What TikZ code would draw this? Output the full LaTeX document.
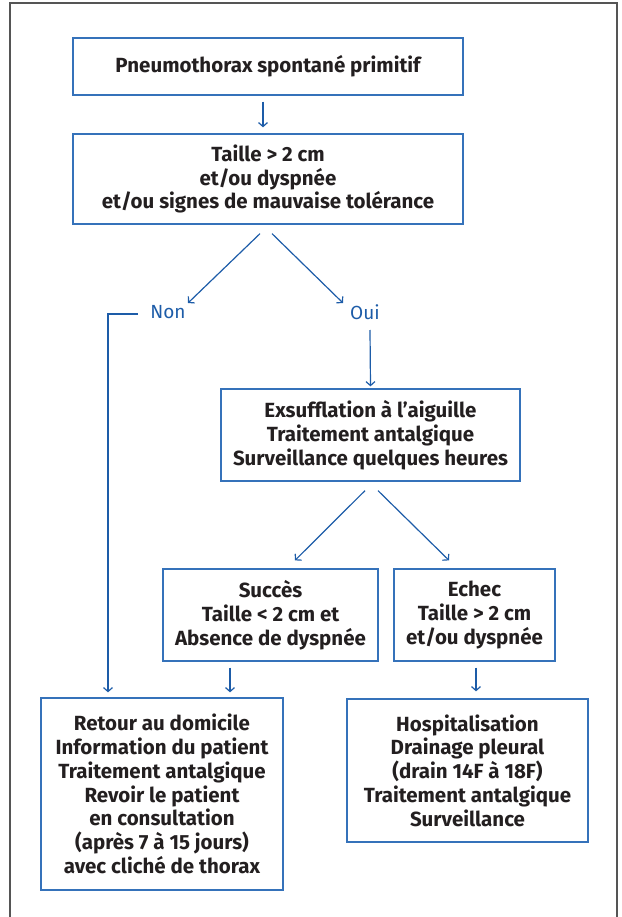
\documentclass[tikz,border=0pt]{standalone}
\usepackage{fontspec}
\setmainfont{Fira Sans}
\usetikzlibrary{arrows.meta,calc}
\definecolor{boxblue}{HTML}{3572BA}
\definecolor{arrblue}{HTML}{1D5CA8}
\definecolor{txt}{HTML}{231F20}
\definecolor{framegray}{HTML}{555555}
\begin{document}
\begin{tikzpicture}[x=1pt,y=-1pt,
  boxnode/.style={draw=boxblue, line width=1.3pt, align=center, text=txt,
    font=\fontsize{20.5}{23.8}\selectfont\bfseries, inner sep=0pt},
  lbl/.style={text=arrblue, font=\fontsize{19}{22}\selectfont, inner sep=0pt},
  arr/.style={draw=arrblue, line width=1.2pt, -{Straight Barb[length=4pt,width=9pt,line width=1.2pt]}},
  framestyle/.style={draw=framegray, line width=1.2pt}]
\useasboundingbox (0,0) rectangle (621,917);
\draw[framestyle] (10,917) -- (10,3) -- (617,3) -- (617,917);

\node[boxnode, minimum width=390pt, minimum height=57pt] (b1) at (268,66.5) {Pneumothorax spontané primitif};
\node[boxnode, minimum width=390pt, minimum height=90pt] (b2) at (268,179) {Taille > 2 cm\\ et/ou dyspnée\\ et/ou signes de mauvaise tolérance};
\node[lbl] (non) at (168,312) {Non};
\node[lbl] (oui) at (365,312) {Oui};
\node[boxnode, minimum width=299pt, minimum height=92pt] (b3) at (370.5,435) {Exsufflation à l’aiguille\\ Traitement antalgique\\ Surveillance quelques heures};
\node[boxnode, minimum width=215pt, minimum height=92pt] (b4) at (270.5,615) {Succès\\ Taille < 2 cm et\\ Absence de dyspnée};
\node[boxnode, minimum width=161pt, minimum height=92pt] (b5) at (474.5,615) {Echec\\ Taille > 2 cm\\ et/ou dyspnée};
\node[boxnode, minimum width=242pt, minimum height=192pt] (b6) at (162,794) {Retour au domicile\\ Information du patient\\ Traitement antalgique\\ Revoir le patient\\ en consultation\\ (après 7 à 15 jours)\\ avec cliché de thorax};
\node[boxnode, minimum width=241pt, minimum height=143pt] (b7) at (467.5,770.5) {Hospitalisation\\ Drainage pleural\\ (drain 14F à 18F)\\ Traitement antalgique\\ Surveillance};

\draw[arr] ([xshift=-5pt,yshift=-6pt]b1.south) -- ([xshift=-5pt,yshift=6pt]b2.north);
\draw[arr] ([xshift=-8pt,yshift=-9pt]b2.south) -- ([xshift=20pt,yshift=9pt]non.center);
\draw[arr] ([xshift=4pt,yshift=-9pt]b2.south) -- ([xshift=-22pt,yshift=9pt]oui.center);
\draw[arr] ([xshift=-12pt,yshift=-2pt]non.west) -| ([xshift=-54pt,yshift=5pt]b6.north);
\draw[arr] ([xshift=5pt,yshift=-18pt]oui.center) -- ([yshift=2pt]b3.north);
\draw[arr] ([xshift=-5.5pt,yshift=-9pt]b3.south) -- ([xshift=24.5pt,yshift=8pt]b4.north);
\draw[arr] ([xshift=7.5pt,yshift=-9pt]b3.south) -- ([xshift=-25.5pt,yshift=8pt]b5.north);
\draw[arr] ([xshift=-40.5pt,yshift=-6pt]b4.south) -- ([xshift=-40.5pt,yshift=5pt]b4.south |- b6.north);
\draw[arr] ([xshift=1.5pt,yshift=-6pt]b5.south) -- ([xshift=1.5pt,yshift=7pt]b5.south |- b7.north);
\end{tikzpicture}
\end{document}
